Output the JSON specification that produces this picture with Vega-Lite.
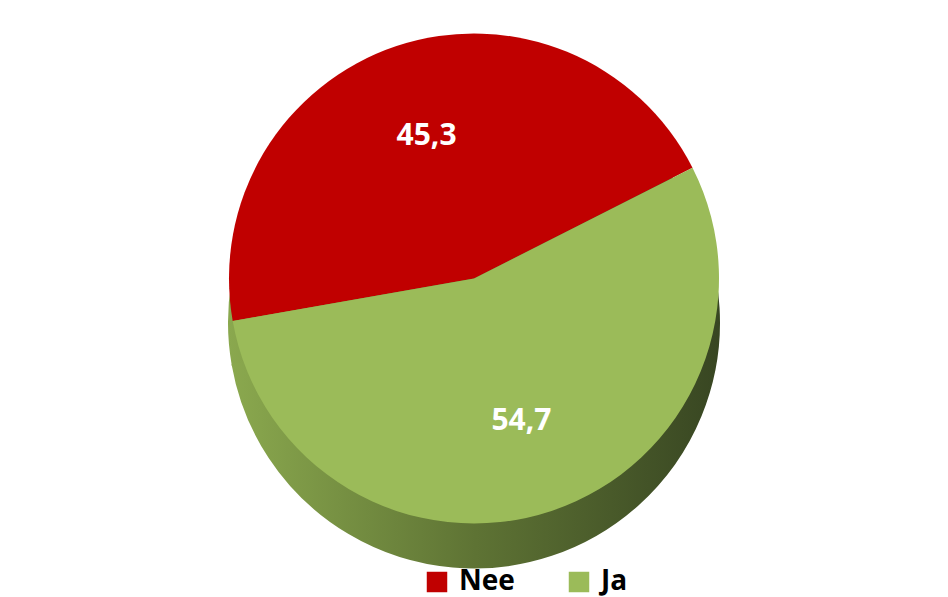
{
  "$schema": "https://vega.github.io/schema/vega-lite/v6.json",
  "width": 948,
  "height": 597,
  "autosize": {"type": "fit", "contains": "padding"},
  "background": "white",
  "data": {"values": [
    {"antwoord": "Nee", "waarde": 45.3, "label": "45,3", "volgorde": 1},
    {"antwoord": "Ja", "waarde": 54.7, "label": "54,7", "volgorde": 2}
  ]},
  "encoding": {
    "theta": {"field": "waarde", "type": "quantitative", "stack": true, "scale": {"range": [-1.745, 4.538]}},
    "order": {"field": "volgorde", "type": "quantitative"}
  },
  "layer": [
    {
      "mark": {"type": "arc", "outerRadius": 245, "yOffset": 24, "strokeWidth": 2,
        "fill": {"gradient": "linear", "x1": 0, "x2": 1, "y1": 0, "y2": 0,
          "stops": [{"offset": 0, "color": "#8AA84E"}, {"offset": 0.5, "color": "#5E7334"}, {"offset": 1, "color": "#384622"}]},
        "stroke": {"gradient": "linear", "x1": 0, "x2": 1, "y1": 0, "y2": 0,
          "stops": [{"offset": 0, "color": "#8AA84E"}, {"offset": 0.5, "color": "#5E7334"}, {"offset": 1, "color": "#384622"}]}}
    },
    {
      "mark": {"type": "arc", "outerRadius": 245, "yOffset": -20},
      "encoding": {
        "color": {"field": "antwoord", "type": "nominal",
          "scale": {"domain": ["Nee", "Ja"], "range": ["#C00000", "#9BBB59"]},
          "legend": {"orient": "none", "legendX": 418, "legendY": 563, "direction": "horizontal", "title": null,
            "symbolType": "square", "symbolSize": 420, "symbolStrokeWidth": 0,
            "labelFont": "Open Sans", "labelFontWeight": "bold", "labelFontSize": 28,
            "labelColor": "#000000", "columnPadding": 50, "labelOffset": 8, "padding": 0}}
      }
    },
    {
      "mark": {"type": "text", "radius": 150, "yOffset": -20, "font": "Open Sans", "fontWeight": "bold", "fontSize": 30, "fill": "white"},
      "encoding": {"text": {"field": "label", "type": "nominal"}}
    }
  ],
  "config": {"view": {"stroke": null}}
}
